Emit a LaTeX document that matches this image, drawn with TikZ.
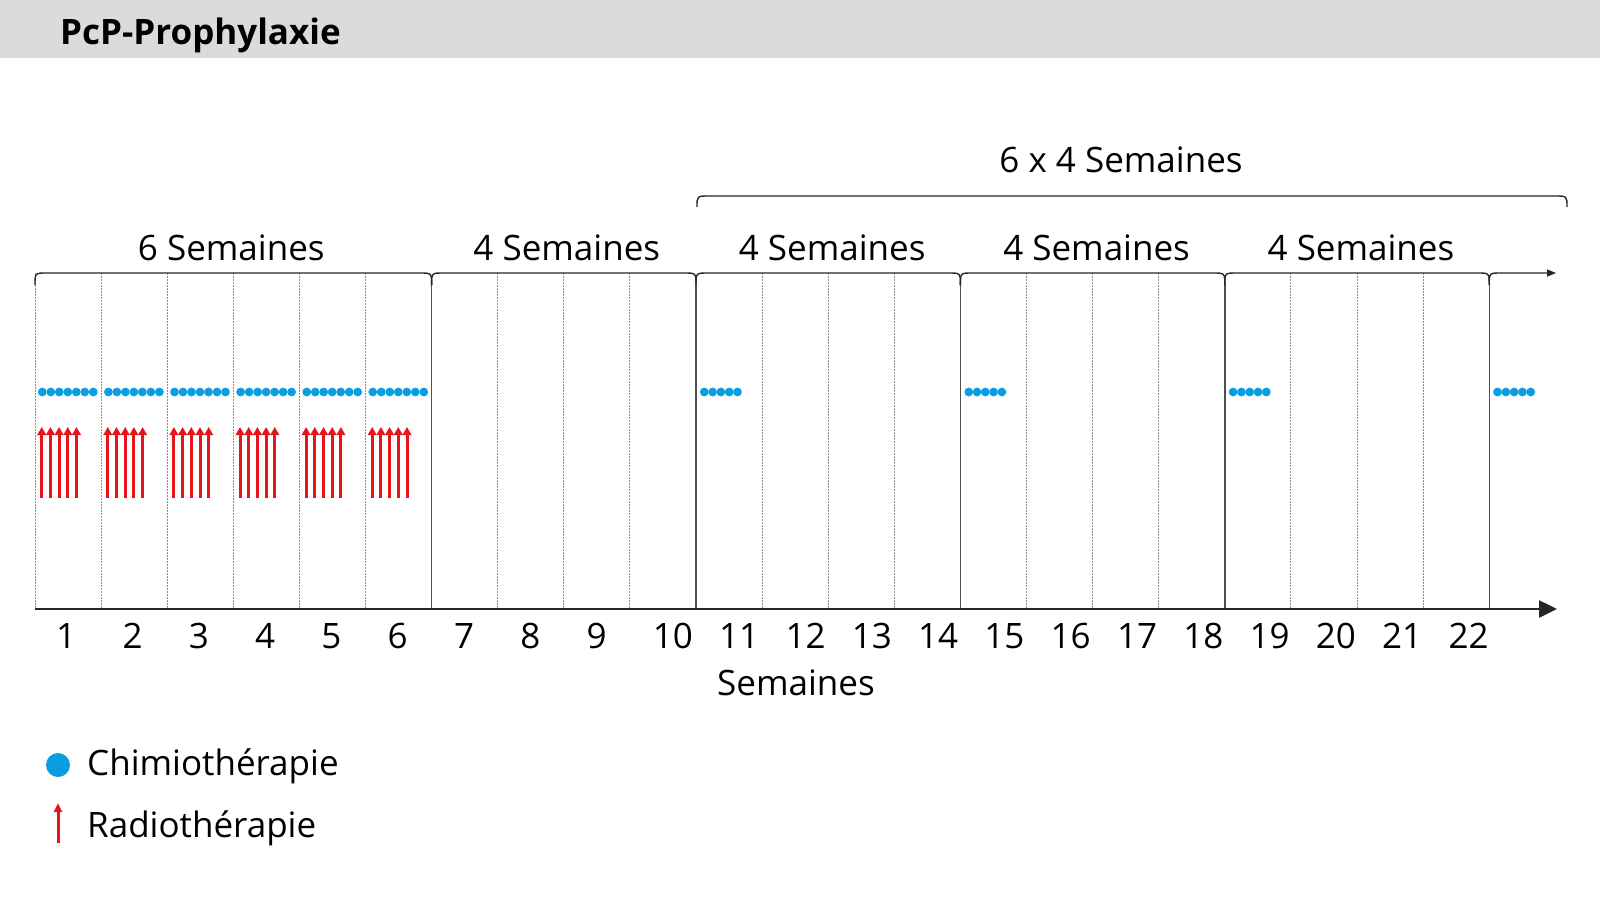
\documentclass[tikz,border=0pt]{standalone}
\usepackage{fontspec}
\setmainfont{Open Sans}
\usetikzlibrary{arrows.meta,calc}
\definecolor{chemo}{RGB}{10,158,224}
\definecolor{radio}{RGB}{232,20,28}
\definecolor{band}{RGB}{218,219,219}
\definecolor{gridgray}{RGB}{140,140,140}
\definecolor{solidgray}{RGB}{80,80,80}
\tikzset{
  lbl/.style={font=\fontsize{35}{42}\selectfont, inner sep=0pt, anchor=base},
  numlbl/.style={font=\fontsize{35}{42}\selectfont, inner sep=0pt, anchor=base west},
  gridline/.style={draw=gridgray, line width=1pt, dash pattern=on 1.5pt off 1.5pt},
  sepline/.style={draw=solidgray, line width=1.4pt},
  bracket/.style={draw=black!85, line width=1.4pt},
  chemodot/.style={fill=chemo},
  radioarrow/.style={draw=radio, line width=3pt, -{Triangle[width=8.5pt,length=8pt]}, fill=radio},
}
\begin{document}
\begin{tikzpicture}[x=1pt,y=-1pt]
\useasboundingbox (0,0) rectangle (1600,900);
\fill[band] (0,0) rectangle (1600,58);
\node[font=\fontsize{35}{42}\selectfont\bfseries, inner sep=0pt, anchor=base west] (title) at (60,44) {PcP-Prophylaxie};

\def\xo{35}
\def\g{66.1}
% grid lines
\foreach \k in {0,1,2,3,4,5,7,8,9,11,12,13,15,16,17,19,20,21} {
  \draw[gridline] ({\xo+\g*\k},273) -- ({\xo+\g*\k},609);
}
\foreach \k in {6,10,14,18,22} {
  \draw[sepline] ({\xo+\g*\k},285) -- ({\xo+\g*\k},609);
}
% axis
\coordinate (ax0) at (\xo,609);
\coordinate (ax1) at (1557,609);
\draw[line width=2.5pt, draw=black!85, -{Triangle[width=17pt,length=18pt]}] (ax0) -- (ax1);

% brackets at y=273
\foreach \a/\b/\t/\dx [count=\i] in {0/6/6 Semaines/-2,6/10/4 Semaines/3,10/14/4 Semaines/4,14/18/4 Semaines/4,18/22/4 Semaines/4} {
  \pgfmathsetmacro\xa{\xo+\g*\a}
  \pgfmathsetmacro\xb{\xo+\g*\b}
  \draw[bracket] (\xa,285) .. controls (\xa,273) .. (\xa+12,273) -- (\xb-12,273) .. controls (\xb,273) .. (\xb,285);
  \node[lbl] (br\i) at ({(\xa+\xb)/2+\dx},260) {\t};
}
\pgfmathsetmacro\xl{\xo+\g*22}
\coordinate (tailend) at (1556,273);
\draw[bracket, -{Triangle[width=7pt,length=9pt]}] (\xl,285) .. controls (\xl,273) .. (\xl+12,273) -- (tailend);

% top bracket
\draw[bracket] (697,207) .. controls (697,196) .. (709,196) -- (1555,196) .. controls (1567,196) .. (1567,207);
\node[lbl] (top) at (1121,172) {6 x 4 Semaines};

% week numbers
\foreach \k in {1,...,22} {
  \node[numlbl] (n\k) at ({\xo+21+66.3*(\k-1)},648) {\k};
}
\node[lbl] (axlabel) at (796,695) {Semaines};

% chemo dots weeks 1-6
\foreach \w in {0,...,5} {
  \foreach \i in {0,...,6} {
    \fill[chemodot] ({\xo+\g*\w+7.3+8.5*\i},392) circle (4.4);
  }
}
\foreach \w in {10,14,18,22} {
  \foreach \i in {0,...,4} {
    \fill[chemodot] ({\xo+\g*\w+8.3+8.3*\i},392) circle (4.4);
  }
}
% radio arrows
\foreach \w in {0,...,5} {
  \foreach \i in {0,...,4} {
    \draw[radioarrow] ({\xo+\g*\w+6.7+8.7*\i},498) -- ({\xo+\g*\w+6.7+8.7*\i},427);
  }
}

% legend
\fill[chemodot] (58,765) circle (12);
\node[numlbl] (lchemo) at (87,775) {Chimiothérapie};
\coordinate (la0) at (58,843);
\coordinate (la1) at (58,803);
\draw[draw=radio, line width=3pt, -{Triangle[width=8pt,length=9pt]}] (la0) -- (la1);
\node[numlbl] (lradio) at (87,837) {Radiothérapie};
\end{tikzpicture}
\end{document}
